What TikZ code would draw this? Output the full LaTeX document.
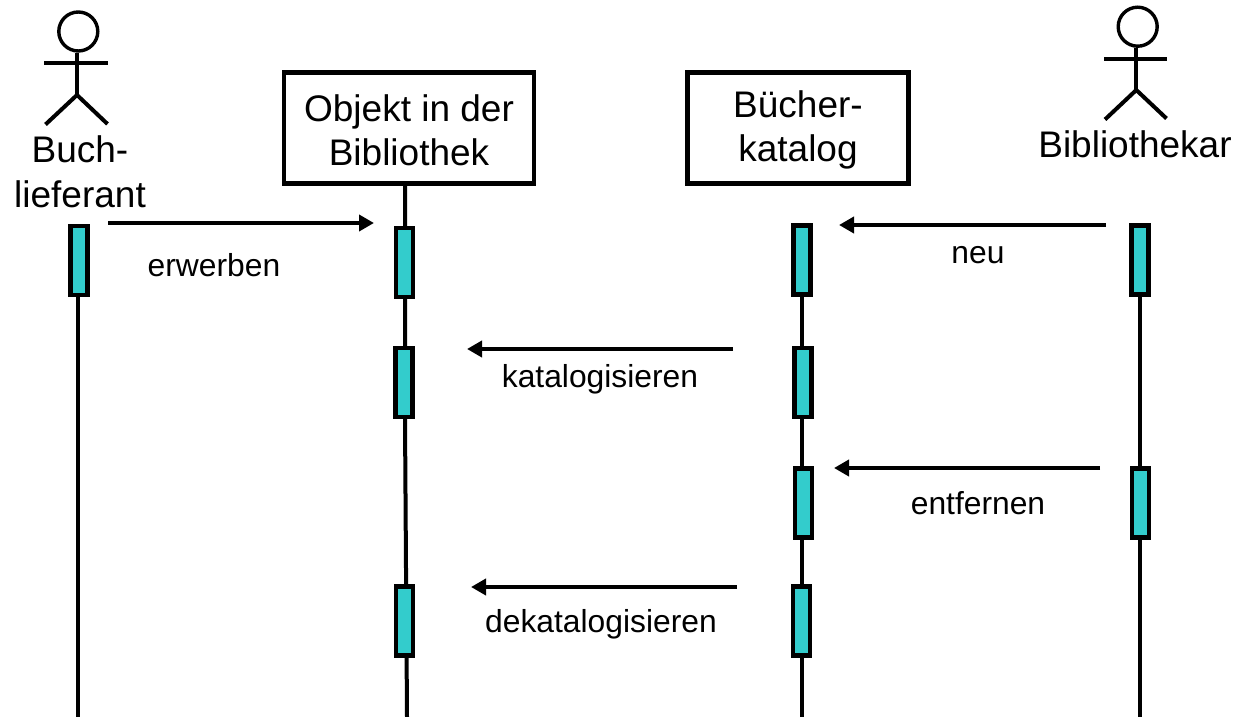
\documentclass[tikz,border=0pt]{standalone}
\usepackage{fontspec}
\setmainfont{Liberation Sans}
\usetikzlibrary{arrows.meta}
\definecolor{cyanact}{HTML}{33CCCC}
\tikzset{
  x=1pt,y=-1pt,
  line/.style={draw=black,line width=4pt,line cap=butt},
  objbox/.style={draw=black,line width=4.5pt,fill=white,minimum width=250pt,minimum height=111pt,inner sep=0pt,align=center,font=\fontsize{37}{44}\selectfont},
  actv/.style={draw=black,line width=4.4pt,fill=cyanact,minimum width=17pt,minimum height=69pt,inner sep=0pt},
  head/.style={circle,draw=black,line width=3.4pt,fill=white,minimum size=39pt,inner sep=0pt},
  biglabel/.style={inner sep=0pt,align=center,font=\fontsize{37}{45}\selectfont},
  msglabel/.style={inner sep=0pt,font=\fontsize{31.8}{38}\selectfont},
  msg/.style={draw=black,line width=4pt,-{Triangle[length=15pt,width=16pt]}},
}
\begin{document}
\begin{tikzpicture}
\useasboundingbox (0,0) rectangle (1237,717);
% lifeline ends
\coordinate (e1) at (78,717);
\coordinate (e2) at (407,717);
\coordinate (e3) at (802,717);
\coordinate (e4) at (1140,717);
% boxes
\node[objbox] (obj) at (409,128) {\rule{0pt}{31pt}Objekt in der\\Bibliothek};
\node[objbox,minimum width=221pt] (kat) at (798,128) {\rule{0pt}{31pt}Bücher-\\katalog};
% lifelines (under the activations)
\coordinate (a1) at (79,260.5);
\coordinate (b1) at (404.5,262.5);
\coordinate (b2) at (404,382.5);
\coordinate (b3) at (404.5,621);
\coordinate (c1) at (802,260);
\coordinate (c2) at (803,382.5);
\coordinate (c3) at (803.5,503);
\coordinate (c4) at (801.5,621);
\coordinate (d1) at (1140,260);
\coordinate (d2) at (1140.5,503);
\coordinate (t2) at (405,185);
\coordinate (m2) at (405,420);
\draw[line] (a1 -| e1) -- (e1);
\draw[line] (t2) -- (m2) -- (e2);
\draw[line] (c1 -| e3) -- (e3);
\draw[line] (d1 -| e4) -- (e4);
% activations
\node[actv] (A1) at (a1) {};
\node[actv] (B1) at (b1) {};
\node[actv] (B2) at (b2) {};
\node[actv] (B3) at (b3) {};
\node[actv] (C1) at (c1) {};
\node[actv] (C2) at (c2) {};
\node[actv] (C3) at (c3) {};
\node[actv] (C4) at (c4) {};
\node[actv] (D1) at (d1) {};
\node[actv] (D2) at (d2) {};
% actors
\node[head] (h1) at (78.3,31.5) {};
\coordinate (w1) at (77,95);
\coordinate (al1) at (44,63.5);
\coordinate (ar1) at (107.5,63.5);
\coordinate (fl1) at (45.5,124.5);
\coordinate (fr1) at (107.5,124);
\draw[line] (h1.south -| w1) -- (w1);
\draw[line] (al1) -- (ar1);
\draw[line,line join=round] (fl1) -- (w1) -- (fr1);
\node[head] (h2) at (1137.7,26.7) {};
\coordinate (w2) at (1136.3,90);
\coordinate (al2) at (1104,59);
\coordinate (ar2) at (1167,59);
\coordinate (fl2) at (1105,119.5);
\coordinate (fr2) at (1166.5,118.5);
\draw[line] (h2.south -| w2) -- (w2);
\draw[line] (al2) -- (ar2);
\draw[line,line join=round] (fl2) -- (w2) -- (fr2);
% actor labels
\node[biglabel] (l1) at (80,172) {Buch-\\lieferant};
\node[biglabel] (l2) at (1135,144) {Bibliothekar};
% messages
\coordinate (m1s) at (108,223); \coordinate (m1e) at (374,223);
\coordinate (m2s) at (1106,225); \coordinate (m2e) at (839,225);
\coordinate (m3s) at (733,349); \coordinate (m3e) at (467,349);
\coordinate (m4s) at (1100,468); \coordinate (m4e) at (834,468);
\coordinate (m5s) at (737,587); \coordinate (m5e) at (471,587);
\draw[msg] (m1s) -- (m1e);
\draw[msg] (m2s) -- (m2e);
\draw[msg] (m3s) -- (m3e);
\draw[msg] (m4s) -- (m4e);
\draw[msg] (m5s) -- (m5e);
\node[msglabel] (t1) at (214,265) {erwerben};
\node[msglabel] (t2l) at (978,255) {neu};
\node[msglabel] (t3) at (600,379) {katalogisieren};
\node[msglabel] (t4) at (978,503) {entfernen};
\node[msglabel] (t5) at (601,624) {dekatalogisieren};
\end{tikzpicture}
\end{document}
